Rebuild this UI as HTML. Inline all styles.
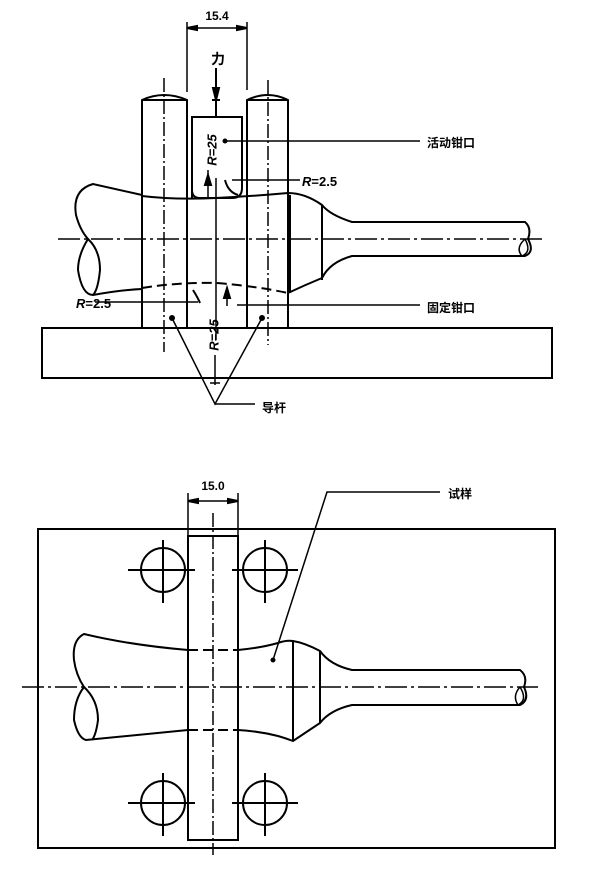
<!DOCTYPE html>
<html><head><meta charset="utf-8"><style>
html,body{margin:0;padding:0;background:#fff;}
svg{display:block;}
text{font-family:"Liberation Sans","Noto Sans CJK SC",sans-serif;font-weight:bold;fill:#000;}
</style></head><body>
<svg width="600" height="878" viewBox="0 0 600 878" xmlns="http://www.w3.org/2000/svg">
<g fill="none" stroke="#000" stroke-width="2">
<!-- TOP VIEW -->
<!-- dimension 15.4 -->
<line x1="187" y1="22" x2="187" y2="92" stroke-width="1.5"/>
<line x1="247" y1="22" x2="247" y2="90" stroke-width="1.5"/>
<line x1="187" y1="28" x2="247" y2="28" stroke-width="1.5"/>
<path d="M187 28 l10 -2 v4 z M247 28 l-10 -2 v4 z" fill="#000"/>
<!-- force arrow -->
<line x1="216" y1="68" x2="216" y2="117"/>
<path d="M216 100 l-3 -12 h6 z" fill="#000"/>
<line x1="212" y1="100" x2="220" y2="100"/>
<!-- posts -->
<path d="M142 328 V100 Q164 90 187 100 V328"/>
<line x1="142" y1="100" x2="187" y2="100"/>
<path d="M247 328 V100 Q268 90 288 100 V328"/>
<line x1="247" y1="100" x2="288" y2="100"/>
<line x1="164" y1="78" x2="164" y2="352" stroke-width="1.5" stroke-dasharray="14 3 2 3"/>
<line x1="268" y1="80" x2="268" y2="345" stroke-width="1.5" stroke-dasharray="14 3 2 3"/>
<!-- movable jaw -->
<path d="M192 198 V117 H242 V188 Q242 198 232 198 H200 Q192 198 192 190"/>
<line x1="216" y1="178" x2="216" y2="340" stroke-width="1.5"/>
<!-- base -->
<rect x="42" y="328" width="510" height="50"/>
<!-- center line -->
<line x1="58" y1="239" x2="543" y2="239" stroke-width="1.5" stroke-dasharray="22 4 3 4"/>
<!-- specimen -->
<path d="M142 195 Q120 190 93 184 Q72 190 76 215 Q80 230 88 239 Q78 255 78 270 Q82 295 93 295 Q120 290 142 289"/>
<path d="M88 239 Q100 250 100 270 Q98 290 93 295"/>
<path d="M142 196 Q175 200 216 198 Q255 196 288 193 Q305 193 322 205 Q330 215 352 222 H525 Q532 228 528 239 Q535 252 525 256 H352 Q330 262 322 278 Q305 285 288 293"/>
<path d="M525 239 Q515 248 522 256 Q532 252 525 239" stroke-width="1.5"/>
<line x1="290" y1="195" x2="290" y2="293"/>
<line x1="322" y1="205" x2="322" y2="280"/>
<path d="M142 288 Q180 282 216 283 Q255 286 288 293" stroke-dasharray="10 5"/>
<!-- small radius arcs -->
<path d="M225 180 Q228 192 238 195" />
<path d="M193 290 Q198 298 200 303"/>
<!-- leaders -->
<line x1="225" y1="141" x2="420" y2="141" stroke-width="1.5"/>
<circle cx="225" cy="141" r="1.5" fill="#000"/>
<line x1="232" y1="180" x2="300" y2="180" stroke-width="1.5"/>
<line x1="237" y1="305" x2="420" y2="305" stroke-width="1.5"/>
<line x1="95" y1="302" x2="198" y2="302" stroke-width="1.5"/>
<line x1="208" y1="170" x2="208" y2="198" stroke-width="1.5"/>
<path d="M208 175 l-3 10 h6 z" fill="#000"/>
<line x1="227" y1="290" x2="227" y2="306" stroke-width="1.5"/>
<path d="M227 288 l-3 10 h6 z" fill="#000"/>
<!-- V leader (guide rods) -->
<path d="M172 318 L215 404 L262 318" stroke-width="1.5"/>
<circle cx="172" cy="318" r="2" fill="#000"/>
<circle cx="262" cy="318" r="2" fill="#000"/>
<line x1="215" y1="404" x2="255" y2="404" stroke-width="1.5"/>
<line x1="215" y1="355" x2="215" y2="385" stroke-width="1.5"/>
<line x1="210" y1="383" x2="220" y2="383" stroke-width="1.5"/>

<!-- BOTTOM VIEW -->
<line x1="188" y1="493" x2="188" y2="536" stroke-width="1.5"/>
<line x1="238" y1="493" x2="238" y2="536" stroke-width="1.5"/>
<line x1="188" y1="501" x2="238" y2="501" stroke-width="1.5"/>
<path d="M188 501 l10 -2 v4 z M238 501 l-10 -2 v4 z" fill="#000"/>
<rect x="38" y="529" width="517" height="319"/>
<rect x="188" y="536" width="50" height="304"/>
<line x1="213" y1="513" x2="213" y2="855" stroke-width="1.5" stroke-dasharray="14 3 2 3"/>
<!-- circles -->
<circle cx="163" cy="570" r="22"/>
<circle cx="265" cy="570" r="22"/>
<circle cx="163" cy="803" r="22"/>
<circle cx="265" cy="803" r="22"/>
<path d="M128 570 H195 M163 540 V603 M232 570 H298 M265 540 V603 M128 803 H195 M163 773 V836 M232 803 H298 M265 773 V836"/>
<line x1="22" y1="687" x2="538" y2="687" stroke-width="1.5" stroke-dasharray="22 4 3 4"/>
<!-- specimen -->
<path d="M188 650 Q130 645 84 634 Q72 640 74 660 Q76 675 84 687 Q74 700 74 720 Q78 738 86 740 L188 730"/>
<path d="M84 687 Q98 700 98 720 Q96 735 92 740"/>
<path d="M238 650 Q260 648 278 643 Q286 640 293 641 Q305 643 320 651 Q330 665 352 670 H520 Q528 676 524 687 Q530 700 520 705 H352 Q330 710 320 723 Q305 733 293 741 Q285 738 278 736 Q258 731 238 730"/>
<path d="M520 687 Q512 696 518 705 Q528 700 520 687" stroke-width="1.5"/>
<line x1="293" y1="641" x2="293" y2="741"/>
<line x1="320" y1="651" x2="320" y2="723"/>
<path d="M188 650 H238 M188 730 H238" stroke-dasharray="10 5"/>
<path d="M440 492 H327 L273 660" stroke-width="1.5"/>
<circle cx="273" cy="660" r="1.5" fill="#000"/>
</g>
<!-- labels -->
<text x="217" y="20" font-size="12" text-anchor="middle">15.4</text>
<text x="218" y="64" font-size="14" text-anchor="middle">力</text>
<text x="0" y="0" font-size="13" font-style="italic" transform="translate(213,150) rotate(-90)" text-anchor="middle" dominant-baseline="middle">R=25</text>
<text x="0" y="0" font-size="13" font-style="italic" transform="translate(215,335) rotate(-90)" text-anchor="middle" dominant-baseline="middle">R=25</text>
<text x="302" y="186" font-size="13"><tspan font-style="italic">R</tspan>=2.5</text>
<text x="76" y="308" font-size="13"><tspan font-style="italic">R</tspan>=2.5</text>
<text x="427" y="147" font-size="12">活动钳口</text>
<text x="427" y="312" font-size="12">固定钳口</text>
<text x="262" y="412" font-size="12">导杆</text>
<text x="213" y="490" font-size="12" text-anchor="middle">15.0</text>
<text x="448" y="498" font-size="12">试样</text>
</svg>
</body></html>
